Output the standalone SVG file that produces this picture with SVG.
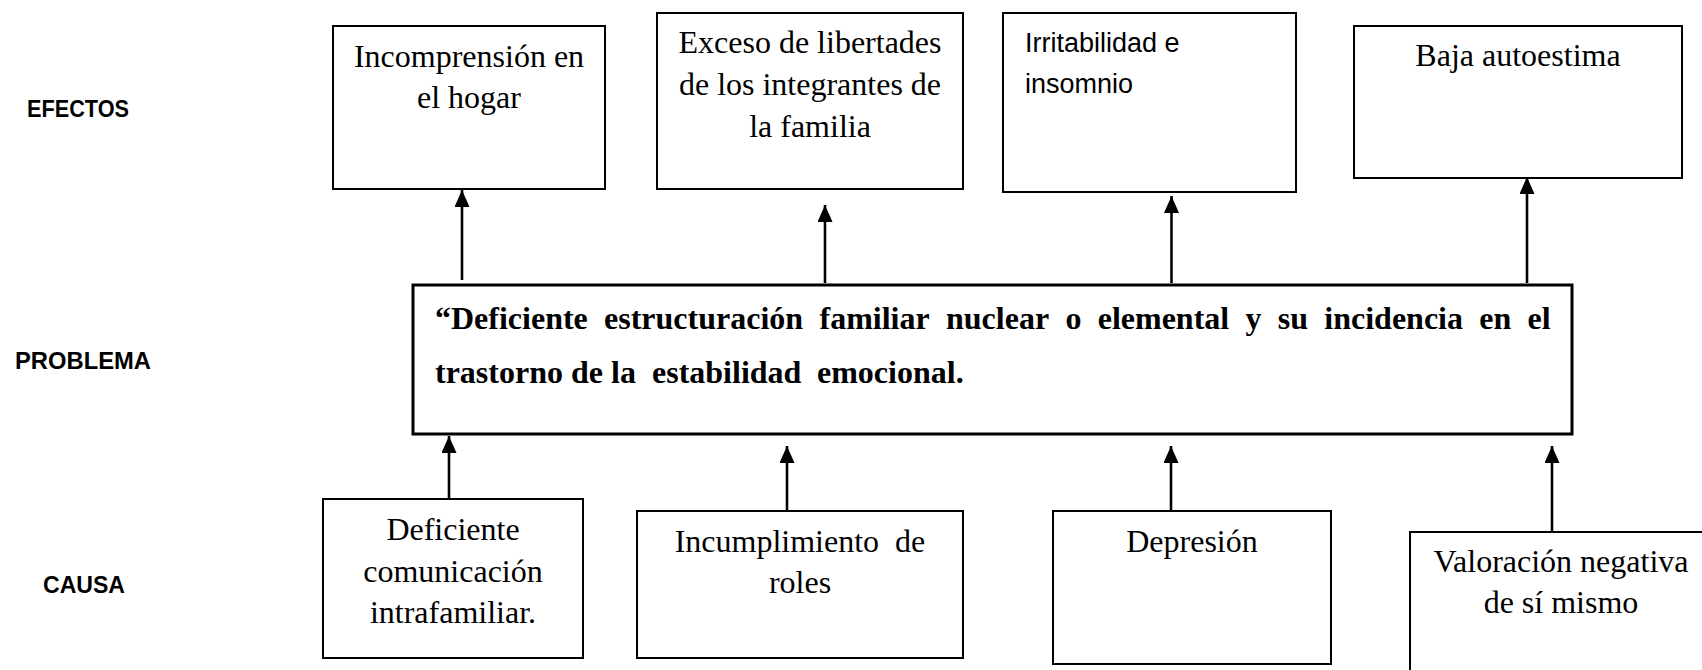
<svg xmlns="http://www.w3.org/2000/svg" width="1702" height="670" viewBox="0 0 1702 670">
<style>
.box{fill:#fff;stroke:#000;stroke-width:2}
.pbox{fill:#fff;stroke:#000;stroke-width:3}
.t{font-family:"Liberation Serif","Times New Roman",serif;font-size:32px;fill:#000;text-anchor:middle}
.tb{font-family:"Liberation Serif","Times New Roman",serif;font-size:32px;font-weight:bold;fill:#000}
.s{font-family:"Liberation Sans",Arial,sans-serif;font-size:27px;fill:#000}
.lbl{font-family:"Liberation Sans",Arial,sans-serif;font-size:24px;font-weight:bold;fill:#000}
.conn line{stroke:#000;stroke-width:2.6;marker-end:url(#ah)}
</style>
<defs>
<marker id="ah" markerUnits="userSpaceOnUse" markerWidth="18" markerHeight="16" refX="17" refY="7.5" orient="auto">
<path d="M0,0 L17,7.5 L0,15 z" fill="#000"/>
</marker>
</defs>
<rect width="1702" height="670" fill="#fff"/>

<g id="labels">
<text class="lbl" x="27" y="117" textLength="102" lengthAdjust="spacingAndGlyphs">EFECTOS</text>
<text class="lbl" x="15" y="369" textLength="136" lengthAdjust="spacingAndGlyphs">PROBLEMA</text>
<text class="lbl" x="43" y="593" textLength="82" lengthAdjust="spacingAndGlyphs">CAUSA</text>
</g>

<g id="efecto1">
<rect class="box" x="333" y="26" width="272" height="163"/>
<text class="t" x="469" y="67">Incomprensión en</text>
<text class="t" x="469" y="108">el hogar</text>
</g>
<g id="efecto2">
<rect class="box" x="657" y="13" width="306" height="176"/>
<text class="t" x="810" y="53">Exceso de libertades</text>
<text class="t" x="810" y="95">de los integrantes de</text>
<text class="t" x="810" y="137">la familia</text>
</g>
<g id="efecto3">
<rect class="box" x="1003" y="13" width="293" height="179"/>
<text class="s" x="1025" y="52">Irritabilidad e</text>
<text class="s" x="1025" y="93">insomnio</text>
</g>
<g id="efecto4">
<rect class="box" x="1354" y="26" width="328" height="152"/>
<text class="t" x="1518" y="66">Baja autoestima</text>
</g>

<g id="problema">
<rect class="pbox" x="413" y="285" width="1159" height="149"/>
<text class="tb" y="329"><tspan x="435">“Deficiente</tspan><tspan x="604">estructuración</tspan><tspan x="819.5">familiar</tspan><tspan x="946">nuclear</tspan><tspan x="1065.4">o</tspan><tspan x="1097.7">elemental</tspan><tspan x="1245.5">y</tspan><tspan x="1277.8">su</tspan><tspan x="1324.3">incidencia</tspan><tspan x="1479.3">en</tspan><tspan x="1527.6">el</tspan></text>
<text class="tb" y="383"><tspan x="435">trastorno</tspan><tspan x="571">de</tspan><tspan x="611">la</tspan><tspan x="652">estabilidad</tspan><tspan x="817">emocional.</tspan></text>
</g>

<g id="causa1">
<rect class="box" x="323" y="499" width="260" height="159"/>
<text class="t" x="453" y="540">Deficiente</text>
<text class="t" x="453" y="582">comunicación</text>
<text class="t" x="453" y="623">intrafamiliar.</text>
</g>
<g id="causa2">
<rect class="box" x="637" y="511" width="326" height="147"/>
<text class="t" x="800" y="552" xml:space="preserve">Incumplimiento  de</text>
<text class="t" x="800" y="593">roles</text>
</g>
<g id="causa3">
<rect class="box" x="1053" y="511" width="278" height="153"/>
<text class="t" x="1192" y="552">Depresión</text>
</g>
<g id="causa4">
<rect class="box" x="1410" y="532" width="310" height="160"/>
<text class="t" x="1561" y="572">Valoración negativa</text>
<text class="t" x="1561" y="613">de sí mismo</text>
</g>

<g id="connectors" class="conn">
<line x1="462" y1="280" x2="462" y2="190"/>
<line x1="825" y1="283" x2="825" y2="205"/>
<line x1="1171.5" y1="283" x2="1171.5" y2="196"/>
<line x1="1527" y1="283" x2="1527" y2="177"/>
<line x1="449" y1="499" x2="449" y2="436"/>
<line x1="787" y1="511" x2="787" y2="446"/>
<line x1="1171" y1="511" x2="1171" y2="446"/>
<line x1="1552" y1="532" x2="1552" y2="446"/>
</g>
</svg>
